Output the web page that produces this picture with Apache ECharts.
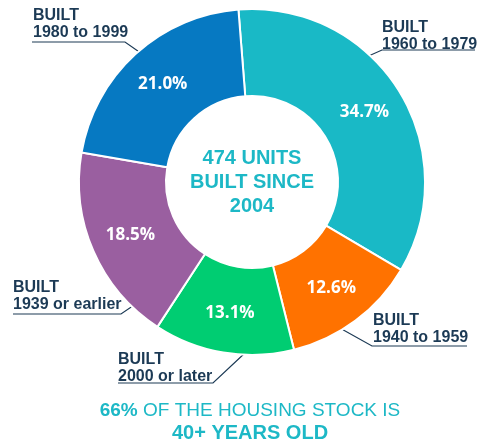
<!DOCTYPE html>
<html>
<head>
<meta charset="utf-8">
<script src="https://cdn.jsdelivr.net/npm/echarts@6/dist/echarts.min.js"></script>
<style>html,body{margin:0;padding:0;background:#fff}#c{width:479px;height:448px}</style>
</head>
<body>
<div id="c"></div>
<script>
// Data (clockwise from top)
const categories = ['BUILT\n1960 to 1979', 'BUILT\n1940 to 1959', 'BUILT\n2000 or later', 'BUILT\n1939 or earlier', 'BUILT\n1980 to 1999'];
const shares = [34.7, 12.6, 13.1, 18.5, 21.0];
const colors = ['#19B9C6', '#FF7200', '#00CD72', '#9A5FA0', '#0679C2'];
const centerLines = ['474 UNITS', 'BUILT SINCE', '2004'];
const footerBold = '66%';
const footerRest = ' OF THE HOUSING STOCK IS';
const footerLine2 = '40+ YEARS OLD';

// Label placement (layout only)
const labelPos = [
  {x: 382, y: 19, pts: [[355, 62], [382, 50], [475, 50]]},
  {x: 373, y: 312, pts: [[338, 327], [372, 346], [467, 346]]},
  {x: 118, y: 351, pts: [[246, 352], [213, 383], [118, 383]]},
  {x: 13, y: 279, pts: [[146, 297], [121, 314], [13, 314]]},
  {x: 33, y: 7, pts: [[145, 56], [125, 42], [32, 42]]}
];

const data = categories.map((c, i) => ({name: c, value: shares[i], itemStyle: {color: colors[i]}}));
const navy = '#1C3A55';
const teal = '#1DB8C6';
const CX = 252, CY = 182;

const chart = echarts.init(document.getElementById('c'), null, {renderer: 'canvas'});
chart.setOption({
  animation: false,
  series: [
    {
      type: 'pie',
      center: [CX, CY],
      radius: [86, 173],
      startAngle: 94.5,
      clockwise: true,
      silent: true,
      itemStyle: {borderColor: '#fff', borderWidth: 2},
      label: {
        show: true, position: 'inside',
        formatter: p => p.value.toFixed(1) + '%',
        color: '#fff', fontFamily: 'Open Sans', fontWeight: 'bold', fontSize: 17
      },
      labelLine: {show: false},
      data: data
    },
    {
      type: 'pie',
      center: [CX, CY],
      radius: [86, 173],
      startAngle: 94.5,
      clockwise: true,
      silent: true,
      itemStyle: {color: 'rgba(0,0,0,0)', borderWidth: 0},
      label: {
        show: true, position: 'outside', alignTo: 'none', overflow: 'none', width: 200,
        formatter: p => p.name,
        color: navy, fontFamily: 'Liberation Sans', fontWeight: 'bold', fontSize: 16, lineHeight: 17,
        align: 'left'
      },
      labelLine: {show: true, lineStyle: {color: navy, width: 1.2}},
      labelLayout: function (params) {
        const lp = labelPos[params.dataIndex];
        return {x: lp.x, y: lp.y, align: 'left', verticalAlign: 'top', width: 200, labelLinePoints: lp.pts};
      },
      data: data.map(d => ({name: d.name, value: d.value}))
    }
  ],
  graphic: [
    {
      type: 'text', x: CX, y: 146, silent: true,
      style: {
        text: centerLines.join('\n'), textAlign: 'center', textVerticalAlign: 'top',
        fill: teal, fontFamily: 'Liberation Sans', fontWeight: 'bold', fontSize: 20, lineHeight: 24
      }
    },
    {
      type: 'text', x: 250, y: 400, silent: true,
      style: {
        text: '{b|' + footerBold + '}{r|' + footerRest + '}\n{c|' + footerLine2 + '}',
        textAlign: 'center', textVerticalAlign: 'top',
        rich: {
          b: {fill: teal, fontFamily: 'Liberation Sans', fontWeight: 'bold', fontSize: 19, lineHeight: 22},
          r: {fill: teal, fontFamily: 'Liberation Sans', fontSize: 19, lineHeight: 22},
          c: {fill: teal, fontFamily: 'Liberation Sans', fontWeight: 'bold', fontSize: 20, lineHeight: 22}
        }
      }
    }
  ]
});
</script>
</body>
</html>
